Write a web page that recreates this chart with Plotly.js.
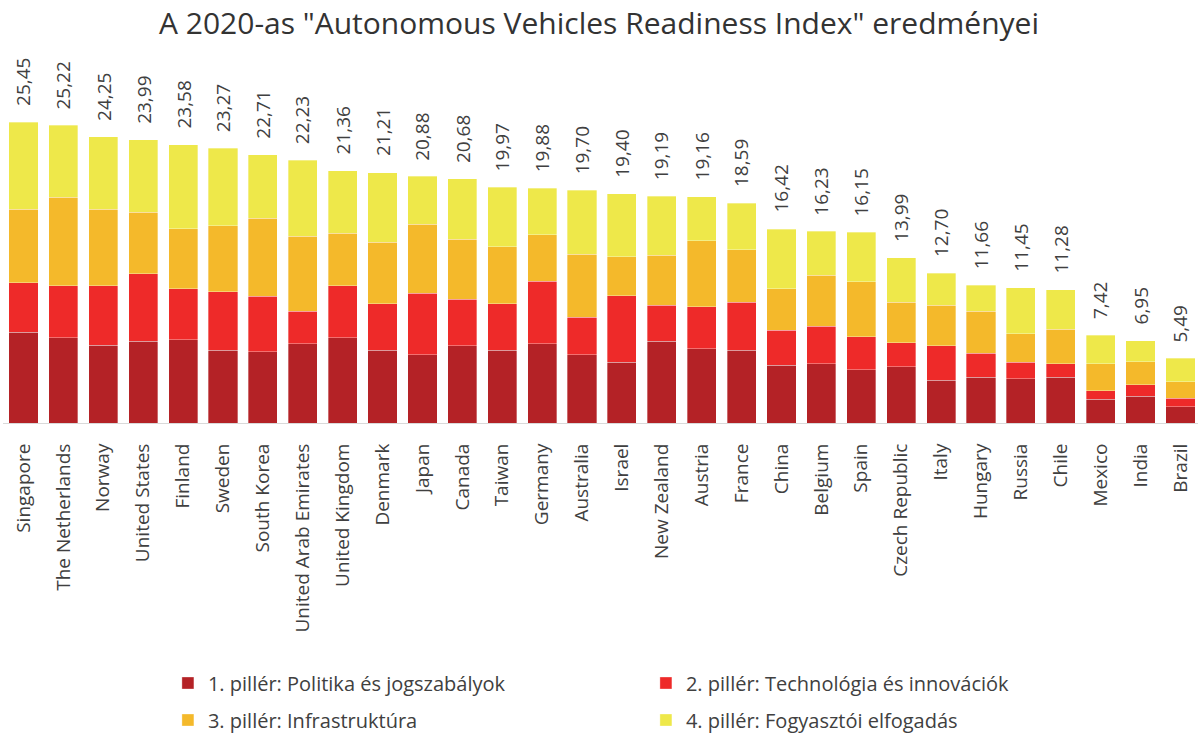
<!DOCTYPE html>
<html>
<head>
<meta charset="utf-8">
<script src="https://cdn.plot.ly/plotly-3.0.1.min.js"></script>
<style>html,body{margin:0;padding:0;background:#fff;}#chart{width:1198px;height:735px;}</style>
</head>
<body>
<div id="chart"></div>
<script>
const countries = ["Singapore","The Netherlands","Norway","United States","Finland","Sweden","South Korea","United Arab Emirates","United Kingdom","Denmark","Japan","Canada","Taiwan","Germany","Australia","Israel","New Zealand","Austria","France","China","Belgium","Spain","Czech Republic","Italy","Hungary","Russia","Chile","Mexico","India","Brazil"];
const pillar1 = [7.70,7.20,6.57,6.94,7.05,6.18,6.04,6.69,7.20,6.18,5.78,6.55,6.18,6.69,5.78,5.14,6.94,6.29,6.18,4.91,5.02,4.51,4.77,3.64,3.89,3.75,3.89,2.00,2.26,1.38];
const pillar2 = [4.18,4.43,5.05,5.70,4.32,4.94,4.71,2.79,4.43,3.92,5.22,3.95,3.92,5.33,3.19,5.62,3.05,3.56,4.06,2.93,3.16,2.79,2.03,2.91,2.03,1.41,1.13,0.73,0.99,0.73];
const pillar3 = [6.24,7.48,6.49,5.22,5.08,5.59,6.60,6.32,4.43,5.19,5.84,5.08,4.83,3.92,5.33,3.30,4.20,5.59,4.43,3.53,4.35,4.68,3.44,3.44,3.56,2.40,2.91,2.29,1.92,1.38];
const pillar4 = [7.33,6.11,6.14,6.13,7.13,6.56,5.36,6.43,5.30,5.92,4.04,5.10,5.04,3.94,5.40,5.34,5.00,3.72,3.92,5.05,3.70,4.17,3.75,2.71,2.18,3.89,3.35,2.40,1.78,2.00];
const totals = [25.45,25.22,24.25,23.99,23.58,23.27,22.71,22.23,21.36,21.21,20.88,20.68,19.97,19.88,19.70,19.40,19.19,19.16,18.59,16.42,16.23,16.15,13.99,12.70,11.66,11.45,11.28,7.42,6.95,5.49];
const seriesNames = ["1. pillér: Politika és jogszabályok","2. pillér: Technológia és innovációk","3. pillér: Infrastruktúra","4. pillér: Fogyasztói elfogadás"];
const chartTitle = 'A 2020-as "Autonomous Vehicles Readiness Index" eredményei';

const colors = ["#B42226","#EE2A29","#F4B92B","#EEE84A"];
const FONT = "'Open Sans', sans-serif";
const TXT = "#404040";
const series = [pillar1, pillar2, pillar3, pillar4];
const legendIds = ["legend","legend","legend2","legend2"];

const traces = series.map((vals, i) => ({
  type: "bar",
  name: seriesNames[i],
  x: countries,
  y: vals,
  legend: legendIds[i],
  marker: {color: colors[i], line: {color: "rgba(255,255,255,0.55)", width: 0.6}},
  hoverinfo: "x+y+name"
}));

const annotations = countries.map((c, i) => ({
  x: c, y: totals[i], xref: "x", yref: "y",
  text: totals[i].toFixed(2).replace(".", ","),
  showarrow: false, textangle: -90,
  xanchor: "center", yanchor: "bottom", yshift: 14,
  font: {family: FONT, size: 19, color: TXT}
}));

const legendCommon = {
  orientation: "h", xanchor: "left", yanchor: "middle",
  xref: "paper", yref: "container",
  font: {family: FONT, size: 20, color: TXT},
  bgcolor: "rgba(0,0,0,0)", entrywidth: 433, traceorder: "normal"
};

const layout = {
  width: 1198, height: 735,
  paper_bgcolor: "#fff", plot_bgcolor: "#fff",
  margin: {l: 3, r: 0, t: 50, b: 312},
  barmode: "stack", bargap: 0.27,
  title: {text: chartTitle, x: 0.5, xanchor: "center", y: 1 - 23/735, yanchor: "middle",
          font: {family: FONT, size: 30, color: "#333333"}},
  xaxis: {type: "category", range: [-0.514, 29.44], tickangle: -90, ticks: "",
          showline: true, linecolor: "#D9D9D9", linewidth: 1, showgrid: false,
          ticklabelstandoff: 12,
          tickfont: {family: FONT, size: 19, color: TXT}},
  yaxis: {visible: false, range: [0, 373/11.81], showgrid: false, zeroline: false},
  showlegend: true,
  legend: Object.assign({x: 0.138, y: 1 - 683/735}, legendCommon),
  legend2: Object.assign({x: 0.138, y: 1 - 720/735}, legendCommon),
  annotations: annotations
};

Plotly.newPlot("chart", traces, layout, {displayModeBar: false, staticPlot: true});
</script>
</body>
</html>
